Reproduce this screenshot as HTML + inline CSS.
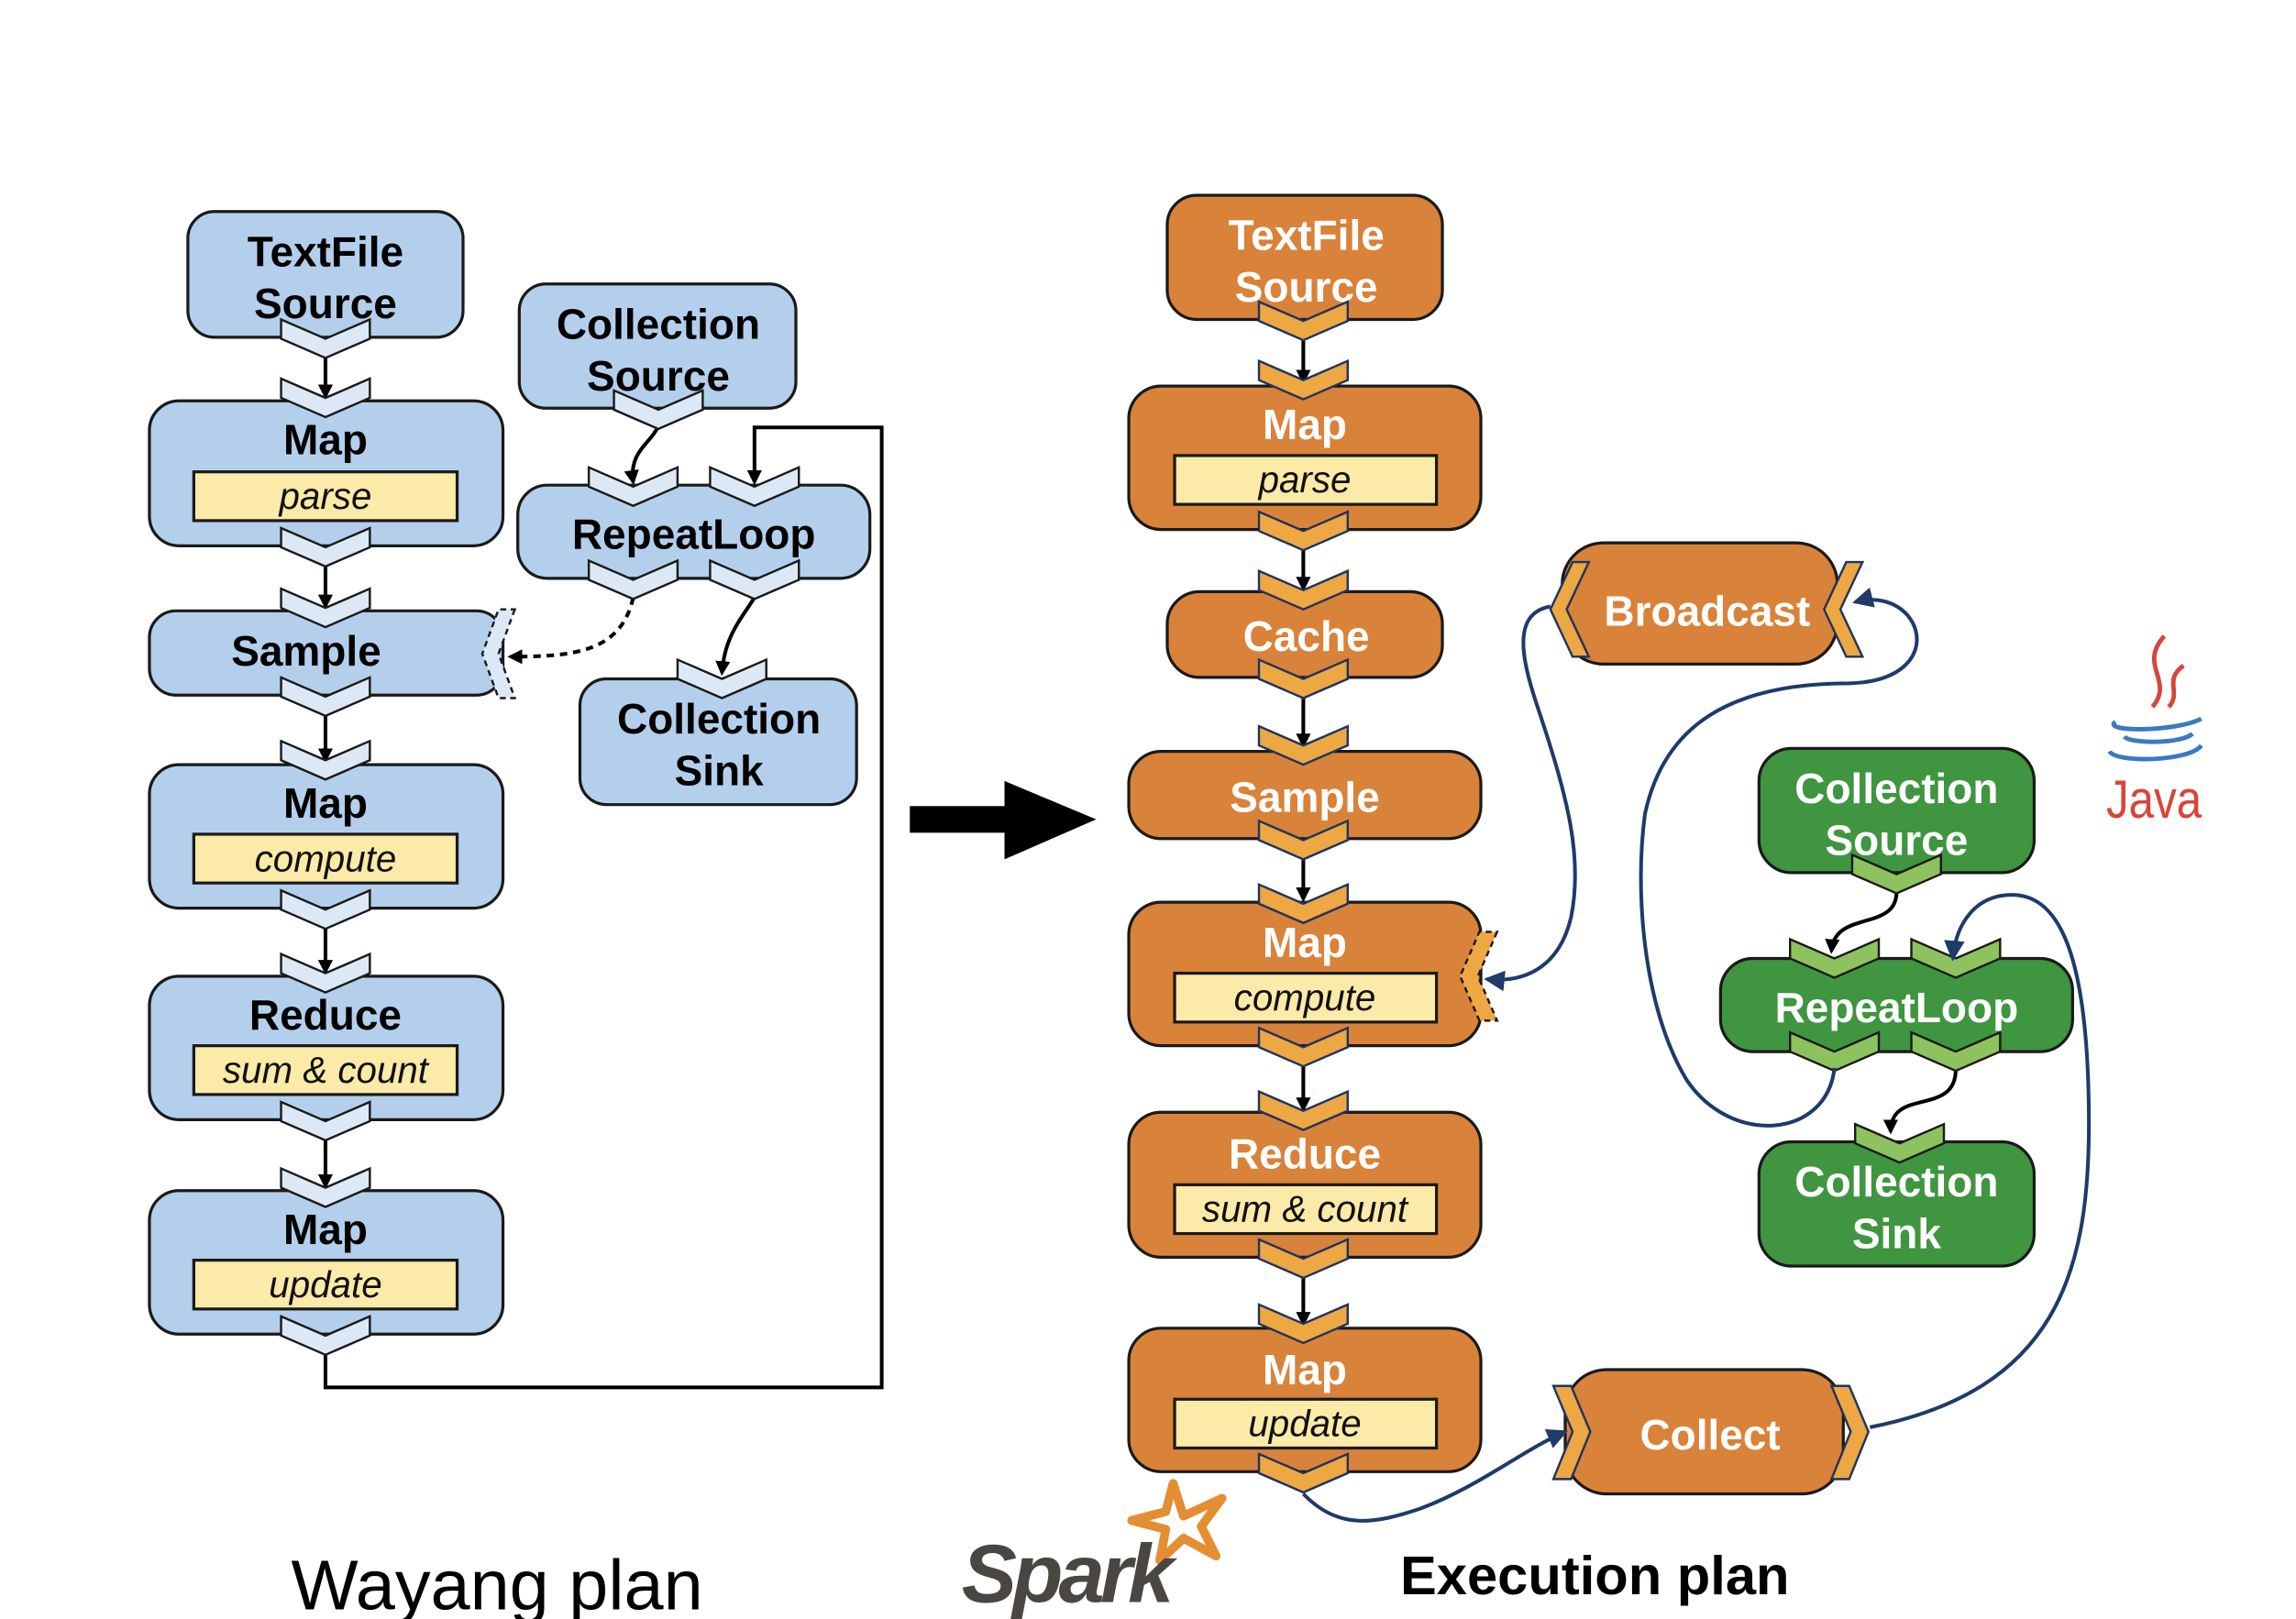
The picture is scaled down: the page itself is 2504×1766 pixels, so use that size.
<!DOCTYPE html>
<html><head><meta charset="utf-8"><style>
html,body{margin:0;padding:0;background:#fff;}
svg{display:block;}
text{font-family:"Liberation Sans",sans-serif;}
.t{font-weight:bold;font-size:28.5px;text-anchor:middle;}
.i{font-style:italic;font-size:25px;text-anchor:middle;fill:#111;}
.bl{fill:#b4cfeb;stroke:#1a1a1a;stroke-width:2;}
.bc{fill:#dce8f6;stroke:#1a1a1a;stroke-width:1.5;}
.or{fill:#d9823a;stroke:#1a1a1a;stroke-width:2;}
.oc{fill:#eda743;stroke:#1f3360;stroke-width:1.5;}
.gr{fill:#3f9540;stroke:#1a1a1a;stroke-width:2;}
.gc{fill:#8dc25e;stroke:#1a1a1a;stroke-width:1.5;}
.yb{fill:#fbeaa8;stroke:#1a1a1a;stroke-width:2;}
.w{fill:#fff;}
.ln{fill:none;stroke:#000;stroke-width:2.5;}
.nv{fill:none;stroke:#1f3a6b;stroke-width:2.5;}
</style></head><body>
<svg width="2504" height="1766" viewBox="0 0 1552 1094.6" preserveAspectRatio="none">
<defs>
<marker id="ab" markerWidth="10" markerHeight="10" refX="8" refY="5" orient="auto" markerUnits="userSpaceOnUse"><path d="M0,0 L10,5 L0,10 z" fill="#000"/></marker>
<marker id="an" markerWidth="14" markerHeight="14" refX="12" refY="7" orient="auto" markerUnits="userSpaceOnUse"><path d="M0,0 L14,7 L0,14 z" fill="#1f3a6b"/></marker>
<path id="ch" d="M-30,0 L0,13 L30,0 L30,13 L0,26 L-30,13 z"/>
</defs>

<path class="ln" d="M220,905 L220,938 L596,938 L596,289 L510,289 L510,326" marker-end="url(#ab)"/>
<g class="ln">
<path d="M220,240 L220,268" marker-end="url(#ab)"/>
<path d="M220,382 L220,410" marker-end="url(#ab)"/>
<path d="M220,483 L220,514" marker-end="url(#ab)"/>
<path d="M220,627 L220,657" marker-end="url(#ab)"/>
<path d="M220,770 L220,802" marker-end="url(#ab)"/>
</g>
<path class="ln" d="M445,288 C440,300 425,305 428,326" marker-end="url(#ab)"/>
<path class="ln" d="M510,404 C500,420 490,430 488,455" marker-end="url(#ab)"/>
<path class="ln" d="M428,404 C420,440 390,444 345,444" stroke-dasharray="5,4" marker-end="url(#ab)"/>

<rect class="bl" x="127" y="143" width="186" height="85" rx="18"/>
<text class="t" x="220" y="180">TextFile</text><text class="t" x="220" y="215">Source</text>
<rect class="bl" x="351" y="192" width="187" height="84" rx="18"/>
<text class="t" x="445" y="229">Collection</text><text class="t" x="445" y="264">Source</text>
<rect class="bl" x="101" y="271" width="239" height="98" rx="20"/>
<text class="t" x="220" y="307">Map</text>
<rect class="yb" x="131" y="319" width="178" height="33"/><text class="i" x="220" y="344">parse</text>
<rect class="bl" x="350" y="328" width="238" height="63" rx="20"/>
<text class="t" x="469" y="371">RepeatLoop</text>
<rect class="bl" x="101" y="413" width="239" height="57" rx="18"/>
<text class="t" x="207" y="450">Sample</text>
<rect class="bl" x="392" y="459" width="187" height="85" rx="18"/>
<text class="t" x="486" y="496">Collection</text><text class="t" x="486" y="531">Sink</text>
<rect class="bl" x="101" y="517" width="239" height="97" rx="20"/>
<text class="t" x="220" y="553">Map</text>
<rect class="yb" x="131" y="564" width="178" height="33"/><text class="i" x="220" y="589">compute</text>
<rect class="bl" x="101" y="660" width="239" height="97" rx="20"/>
<text class="t" x="220" y="696">Reduce</text>
<rect class="yb" x="131" y="707" width="178" height="33"/><text class="i" x="220" y="732">sum &amp; count</text>
<rect class="bl" x="101" y="805" width="239" height="97" rx="20"/>
<text class="t" x="220" y="841">Map</text>
<rect class="yb" x="131" y="852" width="178" height="33"/><text class="i" x="220" y="877">update</text>

<g class="bc">
<use href="#ch" x="220" y="216"/><use href="#ch" x="220" y="256"/>
<use href="#ch" x="220" y="357"/><use href="#ch" x="220" y="398"/>
<use href="#ch" x="220" y="458"/><use href="#ch" x="220" y="501"/>
<use href="#ch" x="220" y="602"/><use href="#ch" x="220" y="645"/>
<use href="#ch" x="220" y="745"/><use href="#ch" x="220" y="790"/>
<use href="#ch" x="220" y="890"/>
<use href="#ch" x="445" y="264"/>
<use href="#ch" x="428" y="316"/><use href="#ch" x="510" y="316"/>
<use href="#ch" x="428" y="379"/><use href="#ch" x="510" y="379"/>
<use href="#ch" x="488" y="446"/>
</g>
<path d="M348,412 L337,442 L348,472 L337,472 L326,442 L337,412 z" fill="#dce8f6" stroke="#1a1a1a" stroke-width="1.5" stroke-dasharray="4,3"/>

<rect x="615" y="545" width="66" height="18" fill="#000"/>
<path d="M679,528 L741,554 L679,581 z" fill="#000"/>

<g class="ln">
<path d="M881,226 L881,258" marker-end="url(#ab)"/>
<path d="M881,370 L881,398" marker-end="url(#ab)"/>
<path d="M881,470 L881,504" marker-end="url(#ab)"/>
<path d="M881,580 L881,608" marker-end="url(#ab)"/>
<path d="M881,720 L881,750" marker-end="url(#ab)"/>
<path d="M881,862 L881,895" marker-end="url(#ab)"/>
</g>
<rect class="or" x="789" y="132" width="186" height="84" rx="20"/>
<text class="t w" x="883" y="169">TextFile</text><text class="t w" x="883" y="204">Source</text>
<rect class="or" x="763" y="261" width="238" height="97" rx="22"/>
<text class="t w" x="882" y="297">Map</text>
<rect class="yb" x="794" y="308" width="177" height="33"/><text class="i" x="882" y="333">parse</text>
<rect class="or" x="789" y="400" width="186" height="58" rx="22"/>
<text class="t w" x="883" y="440">Cache</text>
<rect class="or" x="763" y="508" width="238" height="59" rx="22"/>
<text class="t w" x="882" y="549">Sample</text>
<rect class="or" x="763" y="610" width="238" height="97" rx="22"/>
<text class="t w" x="882" y="647">Map</text>
<rect class="yb" x="794" y="658" width="177" height="33"/><text class="i" x="882" y="683">compute</text>
<rect class="or" x="763" y="752" width="238" height="98" rx="22"/>
<text class="t w" x="882" y="790">Reduce</text>
<rect class="yb" x="794" y="801" width="177" height="33"/><text class="i" x="882" y="826">sum &amp; count</text>
<rect class="or" x="763" y="898" width="238" height="97" rx="22"/>
<text class="t w" x="882" y="936">Map</text>
<rect class="yb" x="794" y="946" width="177" height="33"/><text class="i" x="882" y="971">update</text>
<g class="oc">
<use href="#ch" x="881" y="204"/><use href="#ch" x="881" y="244"/>
<use href="#ch" x="881" y="346"/><use href="#ch" x="881" y="386"/>
<use href="#ch" x="881" y="446"/><use href="#ch" x="881" y="491"/>
<use href="#ch" x="881" y="555"/><use href="#ch" x="881" y="598"/>
<use href="#ch" x="881" y="695"/><use href="#ch" x="881" y="738"/>
<use href="#ch" x="881" y="838"/><use href="#ch" x="881" y="882"/>
<use href="#ch" x="881" y="983"/>
</g>
<path d="M1012,630 L999,660 L1012,690 L1000,690 L987,660 L1000,630 z" fill="#eda743" stroke="#1a1a1a" stroke-width="1.5" stroke-dasharray="4,3"/>

<rect class="or" x="1056" y="367" width="186" height="82" rx="28" stroke="#1f3360"/>
<path class="oc" d="M1063,380 L1048,412 L1063,444 L1074,444 L1059,412 L1074,380 z"/>
<path class="oc" d="M1248,380 L1233,412 L1248,444 L1259,444 L1244,412 L1259,380 z"/>
<text class="t w" x="1154" y="423">Broadcast</text>
<rect class="or" x="1058" y="926" width="188" height="84" rx="28" stroke="#1f3360"/>
<path class="oc" d="M1050,937 L1063,968 L1050,1000 L1062,1000 L1075,968 L1062,937 z"/>
<path class="oc" d="M1238,937 L1251,968 L1238,1000 L1250,1000 L1263,968 L1250,937 z"/>
<text class="t w" x="1156" y="980">Collect</text>

<path class="ln" d="M1282,603 C1282,630 1240,615 1238,643" marker-end="url(#ab)"/>
<path class="ln" d="M1322,723 C1322,755 1278,735 1278,765" marker-end="url(#ab)"/>
<rect class="gr" x="1189" y="506" width="186" height="84" rx="22"/>
<text class="t w" x="1282" y="543">Collection</text><text class="t w" x="1282" y="578">Source</text>
<rect class="gr" x="1163" y="648" width="238" height="63" rx="22"/>
<text class="t w" x="1282" y="691">RepeatLoop</text>
<rect class="gr" x="1189" y="772" width="186" height="84" rx="22"/>
<text class="t w" x="1282" y="809">Collection</text><text class="t w" x="1282" y="844">Sink</text>
<g class="gc">
<use href="#ch" x="1282" y="578"/>
<use href="#ch" x="1240" y="635"/><use href="#ch" x="1322" y="635"/>
<use href="#ch" x="1240" y="698"/><use href="#ch" x="1322" y="698"/>
<use href="#ch" x="1284" y="760"/>
</g>

<path class="nv" d="M1048,410 C1020,415 1030,450 1040,480 C1060,540 1070,580 1062,620 C1055,650 1035,665 1005,662" marker-end="url(#an)"/>
<path class="nv" d="M1240,722 C1235,770 1170,775 1140,730 C1110,680 1105,600 1112,550 C1125,490 1170,462 1250,462 C1320,460 1300,395 1254,407" marker-end="url(#an)"/>
<path class="nv" d="M881,1010 C905,1035 930,1030 960,1020 C1000,1005 1030,980 1058,968" marker-end="url(#an)"/>
<path class="nv" d="M1264,965 C1390,940 1412,860 1412,760 C1412,640 1390,605 1360,605 C1335,605 1322,625 1320,648" marker-end="url(#an)"/>

<g>
<path d="M1463,430 C1445,450 1470,460 1455,478 M1476,450 C1462,460 1475,468 1466,478" fill="none" stroke="#d9453a" stroke-width="3"/>
<path d="M1430,488 C1420,495 1470,495 1488,486 M1436,498 C1440,503 1475,503 1482,496 M1426,508 C1430,516 1480,515 1488,504" fill="none" stroke="#3a7ac0" stroke-width="3"/>
<text x="1456" y="553" font-size="36" fill="#d9453a" text-anchor="middle" transform="translate(1456,0) scale(0.85,1) translate(-1456,0)">Java</text>
</g>

<path d="M793,1003 L800,1025 L826,1013 L812,1032 L822,1052 L800,1040 L784,1055 L788,1034 L765,1028 L788,1022 z" fill="none" stroke="#e48e32" stroke-width="6" stroke-linejoin="round"/>
<text x="650" y="1083" font-size="56" font-weight="bold" font-style="italic" fill="#4a4642" style="letter-spacing:-3px">Spark</text>

<text x="336" y="1088" font-size="48" text-anchor="middle" fill="#000">Wayang plan</text>
<text x="1078" y="1078" font-size="37" font-weight="bold" text-anchor="middle" fill="#000">Execution plan</text>
</svg>
</body></html>
